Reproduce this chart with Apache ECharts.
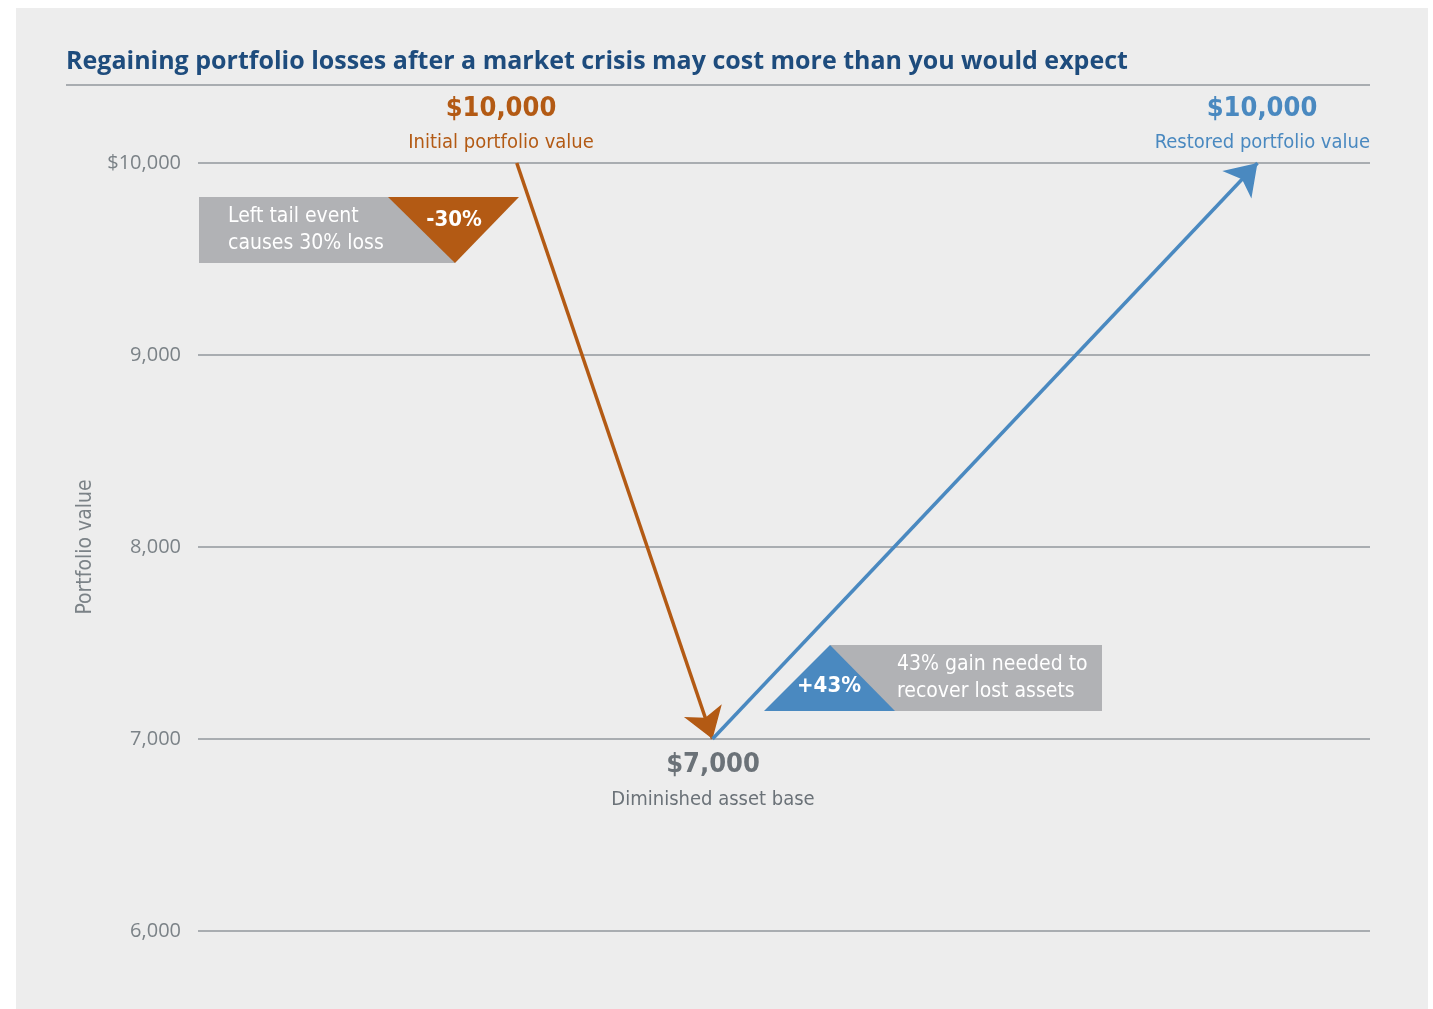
<!DOCTYPE html>
<html>
<head>
<meta charset="utf-8">
<script src="https://cdn.jsdelivr.net/npm/echarts@6/dist/echarts.min.js"></script>
<style>
  html, body { margin: 0; padding: 0; background: #fff; }
  #chart { width: 1433px; height: 1009px; }
</style>
</head>
<body>
<div id="chart"></div>
<script>
"use strict";

// data
const yTicks = [6000, 7000, 8000, 9000, 10000];
const pathX = [27.2, 43.9, 90.4];          // hidden x scale 0..100
const pathY = [10000, 7000, 10000];        // portfolio value
const lossPct = -30;
const gainPct = 43;

const ORANGE = "#b35a14";
const BLUE = "#4a89c0";
const GREY_TXT = "#6b7278";
const BOX = "#b1b2b5";
const NARROW = '"Liberation Sans Narrow", "DejaVu Sans Condensed", sans-serif';

const money = (v) => "$" + v.toLocaleString("en-US");

const chart = echarts.init(document.getElementById("chart"));

chart.setOption({
  animation: false,
  backgroundColor: "#fff",
  grid: { left: 198, right: 63, top: 163, bottom: 78 },
  xAxis: { type: "value", min: 0, max: 100, show: false },
  yAxis: {
    type: "value", min: yTicks[0], max: yTicks[yTicks.length - 1], interval: 1000,
    name: "Portfolio value", nameLocation: "middle", nameGap: 99, nameRotate: 90,
    nameTextStyle: { color: "#7b8287", fontSize: 21, fontFamily: NARROW },
    axisLine: { show: false }, axisTick: { show: false },
    axisLabel: {
      color: "#7b8287", fontSize: 20, fontFamily: "Open Sans", margin: 17,
      formatter: (v) => (v === 10000 ? "$10,000" : v.toLocaleString("en-US")),
    },
    splitLine: { lineStyle: { color: "#a9adb1", width: 2 } },
  },
  graphic: [
    { type: "rect", z: -10, shape: { x: 16, y: 8, width: 1412, height: 1001 }, style: { fill: "#ededed" } },
    { type: "text", left: 66, top: 49, style: { text: "Regaining portfolio losses after a market crisis may cost more than you would expect", fill: "#1e4c7d", font: 'bold 25px "Open Sans", sans-serif' } },
    { type: "line", shape: { x1: 66, y1: 85, x2: 1370, y2: 85 }, style: { stroke: "#a9adb1", lineWidth: 2 } },
    // loss callout
    { type: "rect", shape: { x: 199, y: 197, width: 256, height: 66 }, style: { fill: BOX } },
    { type: "polygon", shape: { points: [[388, 197], [519, 197], [455, 263]] }, style: { fill: ORANGE } },
    { type: "text", x: 228, y: 203, style: { text: "Left tail event\ncauses 30% loss", fill: "#fff", font: "21px " + NARROW, lineHeight: 27 } },
    { type: "text", x: 454, y: 220, style: { text: lossPct + "%", fill: "#fff", font: "bold 22px " + NARROW, align: "center", verticalAlign: "middle" } },
    // gain callout
    { type: "rect", shape: { x: 830, y: 645, width: 272, height: 66 }, style: { fill: BOX } },
    { type: "polygon", shape: { points: [[764, 711], [895, 711], [830, 645]] }, style: { fill: BLUE } },
    { type: "text", x: 897, y: 651, style: { text: "43% gain needed to\nrecover lost assets", fill: "#fff", font: "21px " + NARROW, lineHeight: 27 } },
    { type: "text", x: 829, y: 686, style: { text: "+" + gainPct + "%", fill: "#fff", font: "bold 22px " + NARROW, align: "center", verticalAlign: "middle" } },
    // point labels
    { type: "text", x: 501, y: 109, style: { text: money(pathY[0]), fill: ORANGE, font: "bold 27px " + NARROW, align: "center", verticalAlign: "middle" } },
    { type: "text", x: 501, y: 143, style: { text: "Initial portfolio value", fill: ORANGE, font: "20px " + NARROW, align: "center", verticalAlign: "middle" } },
    { type: "text", x: 1262, y: 109, style: { text: money(pathY[2]), fill: BLUE, font: "bold 27px " + NARROW, align: "center", verticalAlign: "middle" } },
    { type: "text", x: 1370, y: 143, style: { text: "Restored portfolio value", fill: BLUE, font: "20px " + NARROW, align: "right", verticalAlign: "middle" } },
    { type: "text", x: 713, y: 765, style: { text: money(pathY[1]), fill: GREY_TXT, font: "bold 27px " + NARROW, align: "center", verticalAlign: "middle" } },
    { type: "text", x: 713, y: 800, style: { text: "Diminished asset base", fill: GREY_TXT, font: "20px " + NARROW, align: "center", verticalAlign: "middle" } },
  ],
  series: [
    {
      type: "lines", coordinateSystem: "cartesian2d", z: 5,
      symbol: ["none", "arrow"], symbolSize: 30,
      lineStyle: { width: 3.5, opacity: 1, curveness: 0 },
      data: [
        { coords: [[pathX[0], pathY[0]], [pathX[1], pathY[1]]], lineStyle: { color: ORANGE } },
        { coords: [[pathX[1], pathY[1]], [pathX[2], pathY[2]]], lineStyle: { color: BLUE } },
      ],
    },
  ],
});
</script>
</body>
</html>
